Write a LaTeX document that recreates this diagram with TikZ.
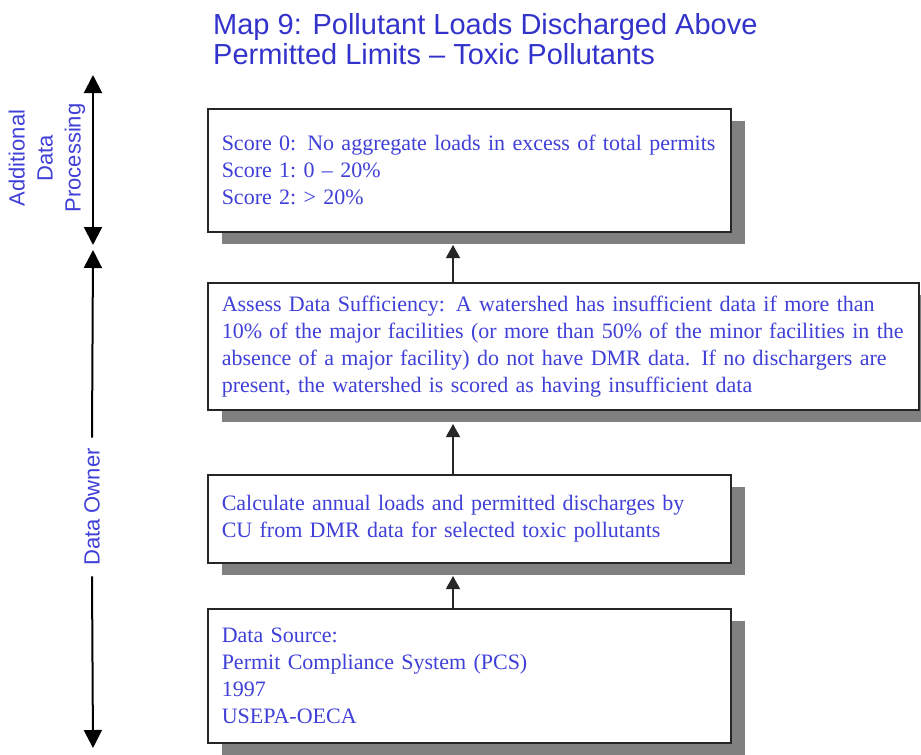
\documentclass[tikz,border=0pt]{standalone}
\usepackage{fontspec}
\setmainfont{Liberation Serif}
\setsansfont{Liberation Sans}
\usepackage{xcolor}
\usetikzlibrary{arrows.meta,shadows}
\definecolor{titleblue}{RGB}{51,51,204}
\definecolor{textblue}{RGB}{64,64,216}

\begin{document}
\begin{tikzpicture}[x=1pt,y=-1pt,
        box/.style={draw=black!85, line width=1.5pt, fill=white, anchor=north west,
            inner xsep=14pt, align=left, text=textblue, font=\fontsize{22}{27}\selectfont\frenchspacing,
            general shadow={fill=black!50, shadow xshift=14pt, shadow yshift=-12.5pt}},
        side/.style={text=textblue, font=\sffamily\fontsize{22}{28}\selectfont, rotate=90, align=center},
        uparr/.style={draw=black!85, line width=1.3pt, -{Triangle[width=14pt,length=13pt]}},
        tip/.style={line width=2pt, -{Triangle[width=18pt,length=18pt]}},
        twotip/.style={line width=2pt, {Triangle[width=18pt,length=18pt]}-{Triangle[width=18pt,length=18pt]}}]
        \useasboundingbox (0,0) rectangle (921,755);
        \node[anchor=north west, inner sep=0pt, align=left, text=titleblue,
            font=\sffamily\fontsize{29}{30}\selectfont] (title) at (213,13)
            {Map 9: Pollutant Loads Discharged Above\\Permitted Limits -- Toxic Pollutants};
        \node[box, text width=495pt, minimum height=123pt] (score) at (207,108)
            {Score 0:\enspace No aggregate loads in excess of total permits\\
             Score 1: 0 -- 20\%\\
             Score 2: > 20\%};
        \node[box, text width=683pt, minimum height=127pt] (assess) at (207,282)
            {Assess Data Sufficiency:\enspace A watershed has insufficient data if more than\\
             10\% of the major facilities (or more than 50\% of the minor facilities in the\\
             absence of a major facility) do not have DMR data.\enspace If no dischargers are\\
             present, the watershed is scored as having insufficient data};
        \node[box, text width=495pt, minimum height=88pt] (calc) at (207,474)
            {Calculate annual loads and permitted discharges by\\
             CU from DMR data for selected toxic pollutants};
        \node[box, text width=495pt, minimum height=134pt] (src) at (207,608)
            {Data Source:\\
             Permit Compliance System (PCS)\\
             1997\\
             USEPA-OECA};
        \coordinate (t1) at (453,245);
        \coordinate (t2) at (453,424);
        \coordinate (t3) at (453,576);
        \draw[uparr] (t1 |- assess.north) -- (t1);
        \draw[uparr] (t2 |- calc.north) -- (t2);
        \draw[uparr] (t3 |- src.north) -- (t3);
        % left side
        \coordinate (adpTop) at (93,75);
        \coordinate (adpBot) at (93,245);
        \coordinate (ownTop) at (93,250);
        \coordinate (ownBot) at (93,748);
        \node[side] (adp) at (47,158) {Additional\\Data\\Processing};
        \node[side, inner xsep=10.5pt] (own) at (92,507) {Data Owner};
        \draw[twotip] (adpTop) -- (adpBot);
        \draw[tip] (own.east) -- (ownTop);
        \draw[tip] (own.west) -- (ownBot);
        \end{tikzpicture}
\end{document}
